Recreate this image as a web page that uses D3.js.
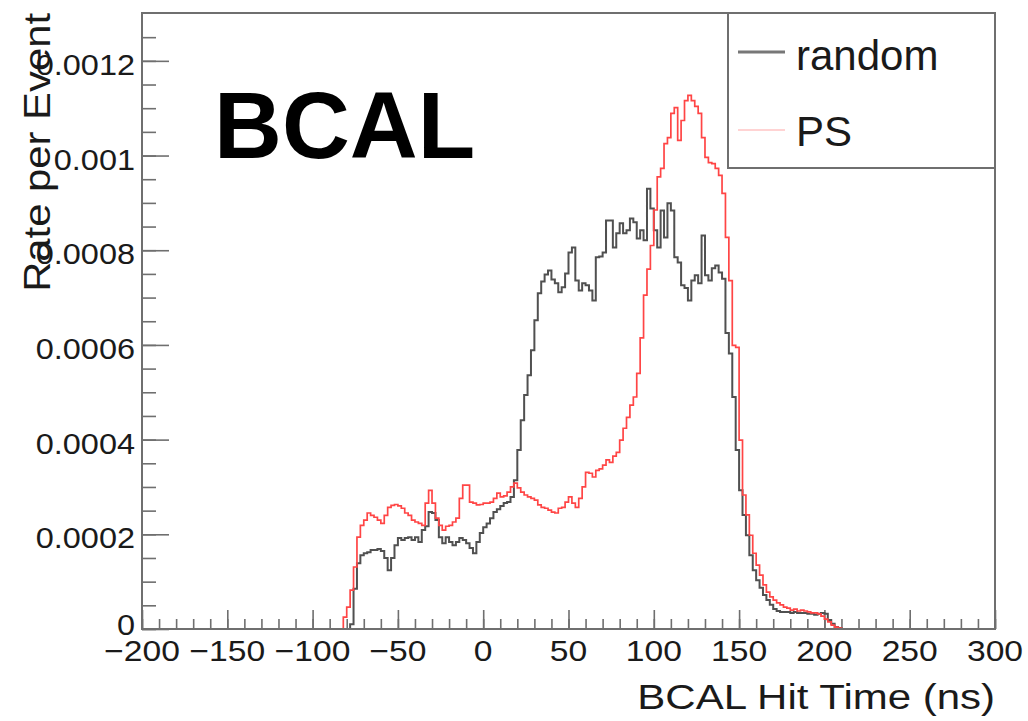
<!DOCTYPE html>
<html><head><meta charset="utf-8">
<script src="https://cdn.jsdelivr.net/npm/d3@7"></script>
<style>
body{margin:0;background:#fff}
svg{display:block}
text{font-family:"Liberation Sans",Arial,Helvetica,sans-serif;fill:#1a1a1a}
</style>
</head><body>
<svg id="c" width="1028" height="721"></svg>
<script>
// ---- data ----
const xDomain = [-200, 300];
const yDomain = [0, 0.0013];
const xMajorTicks = [-200, -150, -100, -50, 0, 50, 100, 150, 200, 250, 300];
const xTickLabels = ["\u2212200", "\u2212150", "\u2212100", "\u221250", "0", "50", "100", "150", "200", "250", "300"];
const yMajorTicks = [0, 0.0002, 0.0004, 0.0006, 0.0008, 0.001, 0.0012];
const yTickLabels = ["0", "0.0002", "0.0004", "0.0006", "0.0008", "0.001", "0.0012"];
const seriesNames = ["random", "PS"];
const xTitle = "BCAL Hit Time (ns)";
const yTitle = "Rate per Event";
const panelLabel = "BCAL";
const binStart = -82;   // ns, lower edge of first listed bin
const binWidth = 2;     // ns
const rateUnit = 1e-6;  // values below are in units of 1e-6

const randomRate = [
  0,0,10,85,139,156,160,162,167,167,
  169,165,150,124,150,177,192,188,192,194,
  188,194,184,209,217,247,245,230,194,181,
  194,184,177,184,192,188,181,171,160,184,
  203,215,223,234,247,253,260,266,268,279,
  314,378,441,494,536,589,652,709,734,749,
  757,738,730,711,722,751,795,806,736,715,
  730,726,715,694,785,787,795,863,863,806,
  836,857,836,842,867,859,825,842,821,930,
  888,842,806,884,827,899,884,785,774,726,
  720,694,736,747,730,831,747,736,762,768,
  753,740,625,582,490,378,293,241,198,156,
  124,103,87,72,61,51,42,38,36,36,
  36,34,36,34,34,34,32,32,30,32,
  34,32,19,11,4,2
];
const psRate = [
  25,46,82,131,194,219,230,245,240,236,
  230,223,240,257,261,263,260,255,245,240,
  230,226,223,219,266,293,266,234,219,209,
  217,219,226,234,276,304,304,268,266,262,
  263,266,266,268,276,287,279,281,289,300,
  308,298,289,283,279,276,272,262,257,255,
  251,247,245,255,257,268,279,266,257,276,
  300,331,329,321,335,338,346,357,352,365,
  373,399,424,447,473,490,540,615,705,760,
  810,885,955,973,1025,1038,1089,1101,1032,1074,
  1116,1127,1116,1104,1089,1038,996,985,983,973,
  958,920,827,736,599,595,399,283,241,198,
  160,135,114,93,78,68,61,55,51,46,
  44,40,42,38,40,38,36,34,34,32,
  27,21,15,8,4,2
];

// ---- layout ----
const L = 142, R = 995, T = 13, B = 629;
const svg = d3.select("#c");
const x = d3.scaleLinear().domain(xDomain).range([L, R]);
const y = d3.scaleLinear().domain(yDomain).range([B, T + 0.5]);
const frameColor = "#6f6f6f";

// ticks via d3 axes (drawn inward)
const xMinor = d3.range(xDomain[0], xDomain[1] + 0.001, 10);
const yMinor = d3.range(0, yDomain[1] - 1e-9, 0.00005);

function styleAxis(g){
  g.select(".domain").remove();
  g.selectAll("line").attr("stroke", frameColor).attr("stroke-width", 1.6);
}
svg.append("g").attr("transform", `translate(0,${B})`)
  .call(d3.axisBottom(x).tickValues(xMinor).tickSize(-10).tickFormat(""))
  .call(styleAxis);
svg.append("g").attr("transform", `translate(0,${B})`)
  .call(d3.axisBottom(x).tickValues(xMajorTicks).tickSize(-19).tickFormat(""))
  .call(styleAxis);
svg.append("g").attr("transform", `translate(${L},0)`)
  .call(d3.axisLeft(y).tickValues(yMinor).tickSize(-14).tickFormat(""))
  .call(styleAxis);
svg.append("g").attr("transform", `translate(${L},0)`)
  .call(d3.axisLeft(y).tickValues(yMajorTicks).tickSize(-27).tickFormat(""))
  .call(styleAxis);

// histogram step outlines
function stepPoints(vals){
  const pts = [[xDomain[0], 0]];
  vals.forEach((v, i) => pts.push([binStart + i * binWidth, v * rateUnit]));
  pts.push([binStart + vals.length * binWidth, 0]);
  pts.push([xDomain[1], 0]);
  return pts;
}
const line = d3.line().x(d => x(d[0])).y(d => y(d[1])).curve(d3.curveStepAfter);
svg.append("path").datum(stepPoints(randomRate)).attr("d", line)
  .attr("fill", "none").attr("stroke", "#505050").attr("stroke-width", 2);
svg.append("path").datum(stepPoints(psRate)).attr("d", line)
  .attr("fill", "none").attr("stroke", "#ff4545").attr("stroke-width", 1.7);

// frame
svg.append("rect").attr("x", L).attr("y", T).attr("width", R - L).attr("height", B - T)
  .attr("fill", "none").attr("stroke", frameColor).attr("stroke-width", 2);

// tick labels
svg.append("g").selectAll("text").data(xMajorTicks).join("text")
  .attr("transform", d => `translate(${x(d)},661) scale(1.16,1)`)
  .attr("text-anchor", "middle").attr("font-size", 29)
  .text((d, i) => xTickLabels[i]);
svg.append("g").selectAll("text").data(yMajorTicks).join("text")
  .attr("transform", d => `translate(135,${y(d) + (d === 0 ? 6 : 14)}) scale(1.1,1)`)
  .attr("text-anchor", "end").attr("font-size", 29.5)
  .text((d, i) => yTickLabels[i]);

// axis titles
svg.append("text").attr("transform", `translate(${R},709) scale(1.2,1)`)
  .attr("text-anchor", "end").attr("font-size", 35).text(xTitle);
svg.append("text").attr("transform", `translate(50,${T}) rotate(-90) scale(1.13,1)`)
  .attr("text-anchor", "end").attr("font-size", 37).text(yTitle);

// panel label
svg.append("text").attr("x", 214).attr("y", 158)
  .attr("font-size", 94).attr("font-weight", "bold")
  .style("fill", "#000").text(panelLabel);

// legend
const lg = svg.append("g");
lg.append("rect").attr("x", 728).attr("y", T).attr("width", R - 728).attr("height", 168 - T)
  .attr("fill", "#fff").attr("stroke", frameColor).attr("stroke-width", 2);
const legendRows = [
  {name: seriesNames[0], y: 52, color: "#777", w: 3.2, ty: 70},
  {name: seriesNames[1], y: 130, color: "#ffc4c4", w: 1.5, ty: 146}
];
legendRows.forEach(r => {
  lg.append("line").attr("x1", 738).attr("x2", 785).attr("y1", r.y).attr("y2", r.y)
    .attr("stroke", r.color).attr("stroke-width", r.w);
  lg.append("text").attr("x", 796).attr("y", r.ty).attr("font-size", 42).text(r.name);
});
</script>
</body></html>
